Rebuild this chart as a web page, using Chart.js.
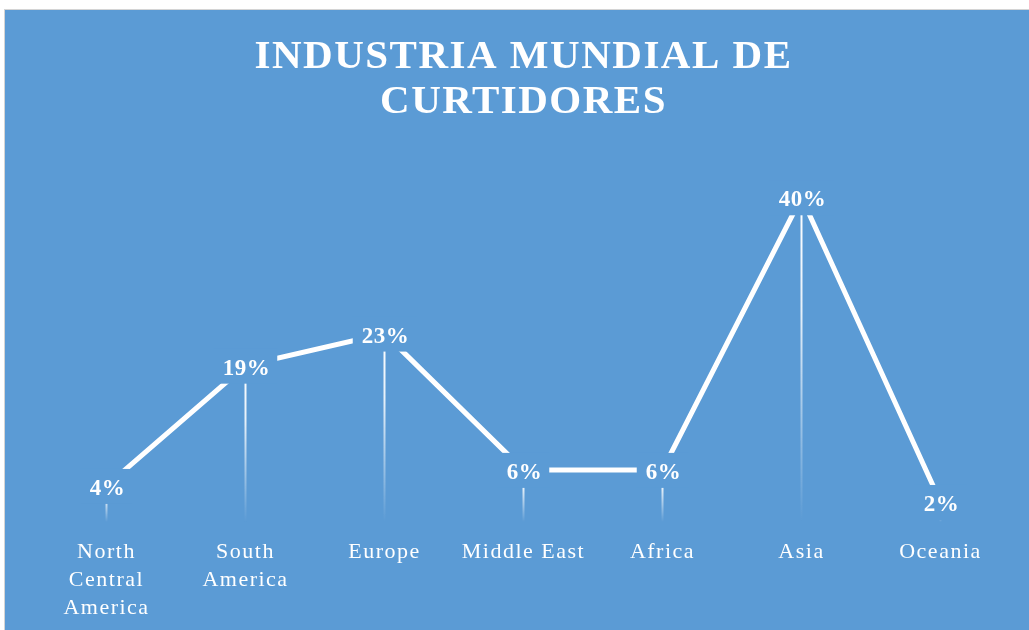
<!DOCTYPE html>
<html>
<head>
<meta charset="utf-8">
<script src="https://cdn.jsdelivr.net/npm/chart.js@4.4.1/dist/chart.umd.min.js"></script>
<style>
  body { margin: 0; background: #ffffff; }
  #wrap {
    position: absolute; left: 4px; top: 9px;
    border-top: 1px solid #d4d4d4; border-left: 1px solid #d4d4d4;
    width: 1024px; height: 620px; background: #5b9bd5;
  }
</style>
</head>
<body>
<div id="wrap"><canvas id="line-chart" width="1024" height="620"></canvas></div>
<script>
var regions = [['North', 'Central', 'America'], ['South', 'America'], 'Europe', 'Middle East', 'Africa', 'Asia', 'Oceania'];
var shares = [4, 19, 23, 6, 6, 40, 2];
var shareLabels = ['4%', '19%', '23%', '6%', '6%', '40%', '2%'];

var bg = '#5b9bd5';
var serif = "'Liberation Serif', 'Times New Roman', serif";

// canvas letter spacing, the original text is spaced out a bit
var spacing = {
    id: 'spacing',
    beforeUpdate: function(chart){ chart.ctx.letterSpacing = '1.5px'; },
    beforeDraw: function(chart){ chart.ctx.letterSpacing = '1.5px'; }
};

// faded drop lines from each point down to the axis
var dropLines = {
    id: 'dropLines',
    beforeDatasetsDraw: function(chart){
        var ctx = chart.ctx;
        var bottom = chart.chartArea.bottom + 4;
        var pts = chart.getDatasetMeta(0).data;
        ctx.save();
        for (var i = 0; i < pts.length; i++) {
            var p = pts[i];
            var g = ctx.createLinearGradient(0, p.y, 0, bottom);
            g.addColorStop(0, 'rgba(255,255,255,1)');
            g.addColorStop(0.35, 'rgba(255,255,255,0.85)');
            g.addColorStop(1, 'rgba(255,255,255,0)');
            ctx.strokeStyle = g;
            ctx.lineWidth = 2;
            ctx.beginPath();
            ctx.moveTo(p.x, p.y);
            ctx.lineTo(p.x, bottom);
            ctx.stroke();
        }
        ctx.restore();
    }
};

// value labels sitting on the points, with a box in the background colour
var valueLabels = {
    id: 'valueLabels',
    afterDatasetsDraw: function(chart){
        var ctx = chart.ctx;
        var pts = chart.getDatasetMeta(0).data;
        ctx.save();
        ctx.letterSpacing = '0.5px';
        ctx.font = 'bold 23px ' + serif;
        ctx.textAlign = 'center';
        ctx.textBaseline = 'middle';
        for (var i = 0; i < pts.length; i++) {
            var p = pts[i];
            var w = ctx.measureText(shareLabels[i]).width;
            ctx.fillStyle = bg;
            ctx.fillRect(p.x - w / 2 - 8, p.y - 17, w + 16, 35);
            ctx.fillStyle = '#ffffff';
            ctx.fillText(shareLabels[i], p.x + 1, p.y + 3);
        }
        ctx.restore();
    }
};

new Chart(document.getElementById('line-chart'), {
    type: 'line',
    data: {
        labels: regions,
        datasets: [
            {
                label: 'Industria',
                data: shares,
                borderColor: '#ffffff',
                borderWidth: 5,
                pointRadius: 0,
                tension: 0,
                fill: false
            }
        ]
    },
    options: {
        responsive: false,
        animation: false,
        layout: { padding: { left: 32, right: 19, top: 0, bottom: 0 } },
        plugins: {
            legend: { display: false },
            tooltip: { enabled: false },
            title: {
                display: true,
                text: ['INDUSTRIA MUNDIAL DE', 'CURTIDORES'],
                color: '#ffffff',
                font: { family: serif, size: 41, weight: 'bold', lineHeight: 1.1 },
                padding: { top: 25, bottom: 32 }
            }
        },
        scales: {
            x: {
                offset: true,
                grid: { display: false, drawTicks: false },
                border: { display: false },
                ticks: {
                    color: '#ffffff',
                    font: { family: serif, size: 22, lineHeight: 1.27 },
                    padding: 20,
                    maxRotation: 0,
                    autoSkip: false
                },
                afterFit: function(scale){ scale.height = 112; }
            },
            y: {
                display: false,
                min: 0,
                max: 45
            }
        }
    },
    plugins: [spacing, dropLines, valueLabels]
});
</script>
</body>
</html>
